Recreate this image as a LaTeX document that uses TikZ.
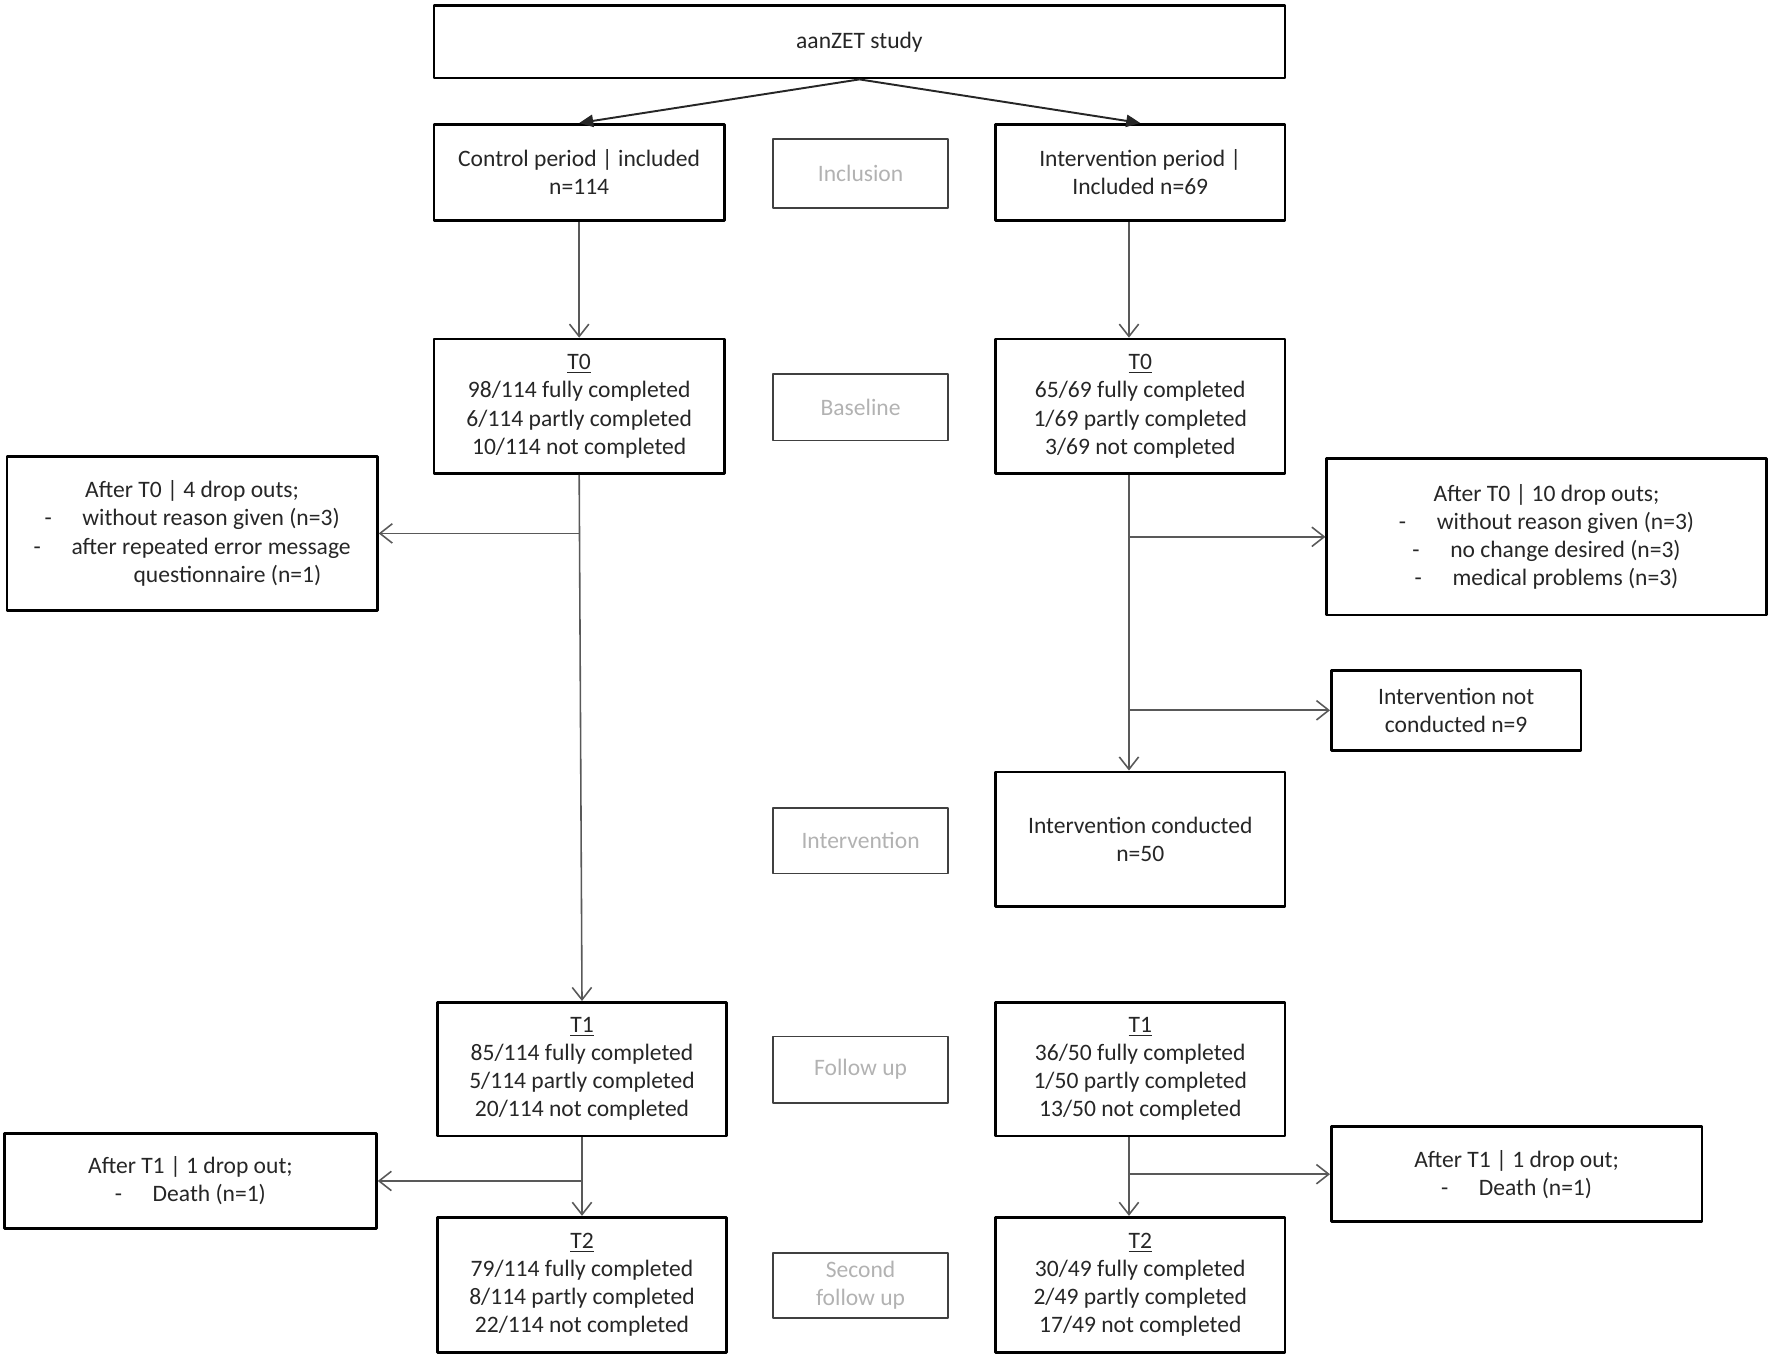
\documentclass[tikz,border=0pt]{standalone}
\usepackage{fontspec}
\setmainfont{Carlito}
\usetikzlibrary{arrows.meta}
\begin{document}
\begin{tikzpicture}
			[x=0.0226cm, y=-0.0226cm, line join=round, >={Straight Barb[length=7pt,width=11pt]},
			flowbox/.style={draw=black, line width=1.5pt, align=center, inner sep=0pt, text=black!85},
			phasebox/.style={draw=black!75, line width=0.9pt, align=center, inner sep=0pt, text=black!30},
			link/.style={draw=black!65, line width=0.9pt}]
			\useasboundingbox (0,0) rectangle (1568,1200);
			\fontsize{13.4}{16}\selectfont
			% boxes
			\node[flowbox, minimum width=17.02cm, minimum height=1.45cm] (top) at (760.5,37) {aanZET study};
			\node[flowbox, minimum width=5.81cm, minimum height=1.92cm] (ctrl) at (512.5,152.5) {Control period | included\\n=114};
			\node[flowbox, minimum width=5.79cm, minimum height=1.92cm] (intv) at (1009,152.5) {Intervention period |\\Included n=69};
			\node[flowbox, minimum width=5.81cm, minimum height=2.69cm] (t0c) at (512.5,359.5) {\underline{T0}\\98/114 fully completed\\6/114 partly completed\\10/114 not completed};
			\node[flowbox, minimum width=5.79cm, minimum height=2.69cm] (t0i) at (1009,359.5) {\underline{T0}\\65/69 fully completed\\1/69 partly completed\\3/69 not completed};
			\node[flowbox, minimum width=7.41cm, minimum height=3.07cm] (dropc) at (170,472) {After T0 | 4 drop outs;\\-\hspace{1.3em}without reason given (n=3)\\-\hspace{1.3em}after repeated error message\\\hspace{3em}questionnaire (n=1)};
			\node[flowbox, minimum width=8.79cm, minimum height=3.12cm] (dropi) at (1368.5,475) {After T0 | 10 drop outs;\\-\hspace{1.3em}without reason given (n=3)\\-\hspace{1.3em}no change desired (n=3)\\-\hspace{1.3em}medical problems (n=3)};
			\node[flowbox, minimum width=4.99cm, minimum height=1.60cm] (notc) at (1288.5,628.5) {Intervention not\\conducted n=9};
			\node[flowbox, minimum width=5.79cm, minimum height=2.69cm] (cond) at (1009,742.5) {Intervention conducted\\n=50};
			\node[flowbox, minimum width=5.79cm, minimum height=2.67cm] (t1c) at (515,946) {\underline{T1}\\85/114 fully completed\\5/114 partly completed\\20/114 not completed};
			\node[flowbox, minimum width=5.79cm, minimum height=2.67cm] (t1i) at (1009,946) {\underline{T1}\\36/50 fully completed\\1/50 partly completed\\13/50 not completed};
			\node[flowbox, minimum width=7.44cm, minimum height=1.90cm] (dropcb) at (168.5,1045) {After T1 | 1 drop out;\\-\hspace{1.3em}Death (n=1)};
			\node[flowbox, minimum width=7.41cm, minimum height=1.90cm] (dropib) at (1342,1039) {After T1 | 1 drop out;\\-\hspace{1.3em}Death (n=1)};
			\node[flowbox, minimum width=5.79cm, minimum height=2.71cm] (t2c) at (515,1137) {\underline{T2}\\79/114 fully completed\\8/114 partly completed\\22/114 not completed};
			\node[flowbox, minimum width=5.79cm, minimum height=2.71cm] (t2i) at (1009,1137) {\underline{T2}\\30/49 fully completed\\2/49 partly completed\\17/49 not completed};
			% phases in the middle
			\node[phasebox, minimum width=3.50cm, minimum height=1.38cm] (incl) at (761.5,153.5) {Inclusion};
			\node[phasebox, minimum width=3.50cm, minimum height=1.33cm] (base) at (761.5,360.5) {Baseline};
			\node[phasebox, minimum width=3.50cm, minimum height=1.31cm] (intl) at (761.5,744) {Intervention};
			\node[phasebox, minimum width=3.50cm, minimum height=1.33cm] (fol) at (761.5,946.5) {Follow up};
			\node[phasebox, minimum width=3.50cm, minimum height=1.29cm] (sec) at (761.5,1137.5) {Second\\follow up};
			% connectors
			\coordinate (lc) at (513,472);
			\coordinate (ri) at (999,0);
			\draw[line width=1.1pt, draw=black!85, -{Triangle[length=8pt,width=7pt]}] (top.south) -- (ctrl.north);
			\draw[line width=1.1pt, draw=black!85, -{Triangle[length=8pt,width=7pt]}] (top.south) -- (intv.north);
			\draw[link, ->] (ctrl.south) -- (t0c.north);
			\draw[link, ->] (intv.south -| ri) -- (t0i.north -| ri);
			\draw[link, ->] (t0c.south) -- (t1c.north);
			\draw[link, ->] (lc) -- (dropc.east);
			\draw[link, ->] (t0i.south -| ri) -- (cond.north -| ri);
			\draw[link, ->] (dropi.west -| ri) -- (dropi.west);
			\draw[link, ->] (notc.west -| ri) -- (notc.west);
			\draw[link, ->] (t1c.south) -- (t2c.north);
			\draw[link, ->] (dropcb.east -| t1c.south) -- (dropcb.east);
			\draw[link, ->] (t1i.south -| ri) -- (t2i.north -| ri);
			\draw[link, ->] (dropib.west -| ri) -- (dropib.west);
		\end{tikzpicture}
\end{document}
